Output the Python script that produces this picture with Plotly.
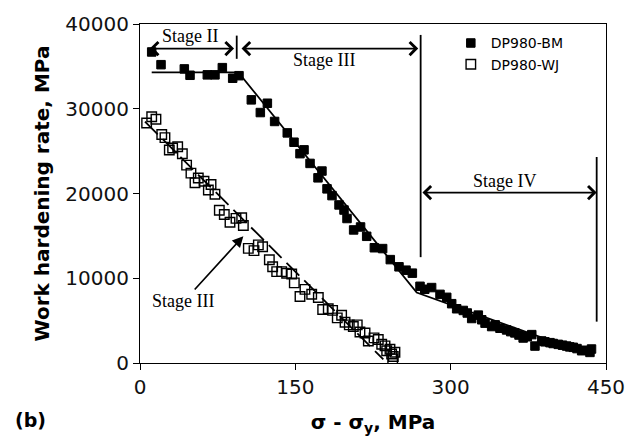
import plotly.graph_objects as go

# ---- data ----
bm_x = [11.3, 20.3, 42.8, 48.3, 65.0, 72.4, 79.5, 89.5, 95.6, 107.5, 116.2, 123.0, 130.0, 142.2,
        148.7, 154.5, 158.4, 164.2, 171.9, 175.7, 180.6, 185.4, 192.2, 197.0, 199.9, 206.3, 213.0,
        218.9, 226.3, 234.3, 241.7, 250.1, 256.9, 263.0, 270.4, 275.0, 281.6, 289.7, 296.2, 301.0,
        305.8, 312.2, 316.0, 320.3, 326.7, 330.0, 333.2, 339.6, 343.0, 347.6, 354.0, 358.0, 362.0,
        366.0, 370.0, 374.0, 378.3, 381.4, 387.9, 391.0, 395.9, 399.0, 403.9, 408.0, 412.0, 415.0,
        418.4, 422.0, 426.5, 430.0, 434.5, 436.0]
bm_y = [36700, 35200, 34700, 33950, 34000, 34000, 34850, 33600, 33900, 31050, 29550, 30650, 28500, 27150,
        26050, 24700, 25150, 23550, 21850, 22650, 20550, 19750, 18650, 18050, 17050, 15700, 16050,
        14950, 13600, 13500, 12200, 11350, 10950, 10600, 9050, 8700, 8900, 8100, 7750, 7000,
        6400, 6200, 5900, 5250, 5650, 5100, 4700, 4300, 4500, 4100, 3900, 3700, 3550,
        3300, 2950, 3100, 3350, 2000, 2600, 2500, 2400, 2300, 2200, 2100, 2000, 1900,
        1850, 1700, 1450, 1500, 1250, 1650]

wj_x = [6.4, 11.3, 15.4, 21.0, 24.1, 28.3, 31.5, 36.4, 40.9, 45.0, 49.2, 53.1, 56.3, 61.8, 66.0, 68.6,
        72.4, 76.6, 81.4, 86.9, 92.7, 98.2, 99.8, 104.6, 110.1, 114.3, 118.4, 124.9, 128.1, 132.0,
        136.8, 141.6, 146.5, 149.0, 154.5, 159.3, 165.8, 172.2, 176.4, 181.8, 186.0, 190.5, 194.7,
        198.0, 202.1, 206.0, 209.8, 212.4, 217.3, 220.5, 226.0, 230.1, 233.4, 236.6, 238.2, 241.4,
        243.0, 244.6, 246.2, 244.0]
wj_y = [28310, 29060, 28760, 26970, 26590, 25140, 25370, 25520, 24690, 23350, 22400, 21260, 21830, 21450,
        20420, 21070, 19920, 18020, 17520, 16610, 17060, 17140, 16230, 13520, 13260, 13940, 13710, 12190,
        11350, 10780, 10780, 10590, 10510, 9450, 7850, 8690, 8110, 7730, 6320, 6400, 6210, 5330, 5640,
        4800, 4500, 4310, 4500, 3660, 3540, 2590, 2970, 2780, 2210, 2020, 1450, 1630, 1060, 770, 1260, 490]

# fitted trend lines
bm_fit_x = [11.3, 95.0, 267.2, 436.0]
bm_fit_y = [34290, 34290, 8309, 900]
wj_fit_x = [4.8, 235.0]
wj_fit_y = [28490, 420]

x_ticks = [0, 150, 300, 450]
y_ticks = [0, 10000, 20000, 30000, 40000]

# stage annotations
stage_labels = ["Stage II", "Stage III", "Stage IV", "Stage III"]
stage_label_x = [48.3, 177.7, 351.5, 41.8]
stage_label_y = [38630, 35770, 21490, 7310]
# double arrows: (x_start, x_end, y)
darrow_x0 = [8.0, 96.6, 271.3]
darrow_x1 = [90.8, 268.7, 441.0]
darrow_y = [37100, 37100, 20110]
# single arrow (tail -> head)
sarrow_tail = [51.5, 8490]
sarrow_head = [99.8, 14970]
# vertical dividers: (x, y_low, y_high)
vline_x = [93.4, 271.0, 441.0]
vline_y0 = [35890, 12490, 4880]
vline_y1 = [38630, 38710, 24310]

fig = go.Figure()
fig.add_trace(go.Scatter(x=bm_x, y=bm_y, mode="markers", name="DP980-BM",
                         marker=dict(symbol="square", size=8.5, color="black",
                                     line=dict(color="black", width=1))))
fig.add_trace(go.Scatter(x=wj_x, y=wj_y, mode="markers", name="DP980-WJ",
                         marker=dict(symbol="square-open", size=9.5, color="black",
                                     line=dict(color="black", width=1.4))))
fig.add_trace(go.Scatter(x=bm_fit_x, y=bm_fit_y, mode="lines", showlegend=False,
                         line=dict(color="black", width=1.8), hoverinfo="skip"))
fig.add_trace(go.Scatter(x=wj_fit_x, y=wj_fit_y, mode="lines", showlegend=False,
                         line=dict(color="black", width=1.8, dash="18px,7px"), hoverinfo="skip"))

for xv, y0, y1 in zip(vline_x, vline_y0, vline_y1):
    fig.add_shape(type="line", x0=xv, x1=xv, y0=y0, y1=y1, xref="x", yref="y",
                  line=dict(color="black", width=1.8))

for x0, x1, yv in zip(darrow_x0, darrow_x1, darrow_y):
    fig.add_annotation(x=x1, y=yv, ax=x0, ay=yv, xref="x", yref="y", axref="x", ayref="y",
                       text="", showarrow=True, arrowhead=4, startarrowhead=4,
                       arrowside="end+start", arrowwidth=1.7, arrowsize=1.5,
                       startarrowsize=1.5, arrowcolor="black", standoff=0, startstandoff=0)

fig.add_annotation(x=sarrow_head[0], y=sarrow_head[1], ax=sarrow_tail[0], ay=sarrow_tail[1],
                   xref="x", yref="y", axref="x", ayref="y", text="", showarrow=True,
                   arrowhead=2, arrowwidth=1.7, arrowsize=1.3, arrowcolor="black", standoff=0)

for t, xv, yv in zip(stage_labels, stage_label_x, stage_label_y):
    fig.add_annotation(x=xv, y=yv, xref="x", yref="y", text=t, showarrow=False,
                       font=dict(family="Liberation Serif", size=18, color="black"))

fig.add_annotation(x=-0.236, y=-0.169, xref="paper", yref="paper", text="<b>(b)</b>",
                   showarrow=False, xanchor="center", yanchor="middle",
                   font=dict(family="DejaVu Sans", size=19, color="black"))

fig.update_layout(
    width=639, height=441,
    margin=dict(l=140, r=33, t=16, b=75),
    paper_bgcolor="white", plot_bgcolor="white",
    showlegend=True,
    legend=dict(x=0.667, y=0.99, xanchor="left", yanchor="top", bgcolor="rgba(0,0,0,0)",
                font=dict(family="DejaVu Sans", size=14, color="black"), itemwidth=30,
                tracegroupgap=0),
    xaxis=dict(range=[0, 450], tickvals=x_ticks, ticktext=[str(v) for v in x_ticks],
               showline=True, linecolor="black", linewidth=1.2, mirror=True,
               ticks="outside", ticklen=6, tickcolor="black", showgrid=False, zeroline=False,
               tickfont=dict(family="DejaVu Sans", size=20, color="#111"),
               title=dict(text="<b>σ - σ<sub>y</sub>, MPa</b>", standoff=16,
                          font=dict(family="DejaVu Sans", size=20, color="black"))),
    yaxis=dict(range=[0, 40000], tickvals=y_ticks, ticktext=[str(v) for v in y_ticks],
               showline=True, linecolor="black", linewidth=1.2, mirror=True,
               ticks="outside", ticklen=6, tickcolor="black", showgrid=False, zeroline=False,
               tickfont=dict(family="DejaVu Sans", size=20, color="#111"),
               title=dict(text="<b>Work hardening rate, MPa</b>", standoff=10,
                          font=dict(family="DejaVu Sans", size=20, color="black"))),
)

fig.write_html("out.html")
